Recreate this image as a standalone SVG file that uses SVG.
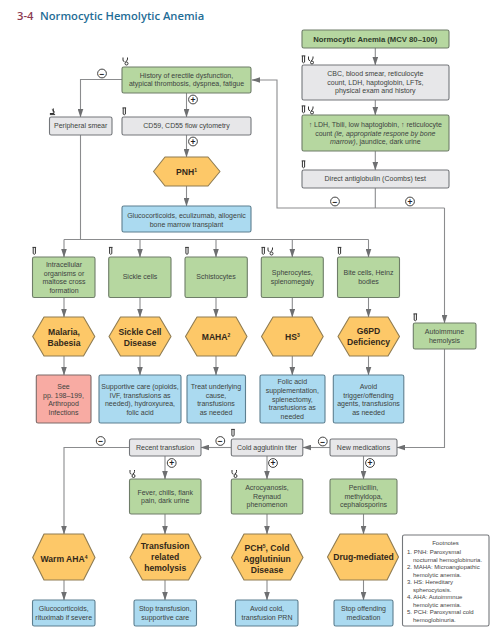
<svg xmlns="http://www.w3.org/2000/svg" xmlns:xlink="http://www.w3.org/1999/xlink" width="501" height="633" viewBox="0 0 501 633">
<style>
text{font-family:"Liberation Sans",Arial,sans-serif;font-size:7px;fill:#3d4340;text-anchor:middle}
.b{rx:1.8;stroke-width:1.1}
.g{fill:#b6d7a0;stroke:#6e7d68}
.y{fill:#e7e7e9;stroke:#74777b}
.l{fill:#abdaf0;stroke:#5d7f90}
.r{fill:#f8aba3;stroke:#7d6a68}
.h{fill:#fdc868;stroke:#8f7c52;stroke-width:1.1;stroke-linejoin:round}
.ht{font-weight:700;font-size:8.6px;fill:#33291a}
.c{fill:none;stroke:#8b8c8e;stroke-width:1.1}
.o{fill:#fff;stroke:#2b2b2b;stroke-width:.9}
.s{font-size:8.5px;font-weight:700;fill:#222}
.f{font-size:6px;text-anchor:start;fill:#444}
.i{fill:none;stroke:#333;stroke-width:1}
</style>
<defs>
<marker id="a" markerWidth="9" markerHeight="6" refX="8" refY="3" orient="auto" markerUnits="userSpaceOnUse"><path d="M0 .2L8.5 3L0 5.8z" fill="#6e6f71"/></marker>
<g id="tube"><path class="i" d="M.2 .4H3.8M.9 .4V6.6Q2 8 3.1 6.6V.4"/></g>
<g id="st"><path class="i" d="M.5 0V2.5Q.5 4 2 4.2M5 0V1.5Q5 3.5 3 4.2"/><circle class="i" cx="4" cy="6" r="1.5"/></g>
<g id="mi"><path class="i" d="M3.8 .4V4.5M2.4 1.5Q5.5 2.5 4.5 5.5H.4M.4 6.6H5.6"/></g>
</defs>
<text x="17" y="19.5" style="font-family:'Open Sans',sans-serif;font-size:11.2px;font-weight:600;fill:#8c3a52;text-anchor:start">3-4</text>
<text x="40" y="19.5" style="font-family:'Open Sans',sans-serif;font-size:11.2px;font-weight:600;fill:#1f6d96;text-anchor:start">Normocytic Hemolytic Anemia</text>

<g id="connectors" class="c">
<path marker-end="url(#a)" d="M375.3 48V65"/>
<path marker-end="url(#a)" d="M375.3 100V115"/>
<path marker-end="url(#a)" d="M375.3 151V170"/>
<path d="M375.3 188V208"/>
<path marker-end="url(#a)" d="M444.5 208H277V80H252"/>
<path marker-end="url(#a)" d="M444.5 208V323"/>
<path marker-end="url(#a)" d="M444.5 349V447.5H397"/>
<path marker-end="url(#a)" d="M122 79.5H80.5V117"/>
<path marker-end="url(#a)" d="M186.5 93V117"/>
<path marker-end="url(#a)" d="M186.5 135V157"/>
<path marker-end="url(#a)" d="M186.5 186V206"/>
<path d="M80.5 135V239.5"/>
<path d="M64 239.5H368.5"/>
<path marker-end="url(#a)" d="M64 239.5V257"/>
<path marker-end="url(#a)" d="M140 239.5V257"/>
<path marker-end="url(#a)" d="M216 239.5V257"/>
<path marker-end="url(#a)" d="M292.3 239.5V257"/>
<path marker-end="url(#a)" d="M368.5 239.5V257"/>
<path marker-end="url(#a)" d="M64 297.5V317"/>
<path marker-end="url(#a)" d="M140 297.5V317"/>
<path marker-end="url(#a)" d="M216 297.5V317"/>
<path marker-end="url(#a)" d="M292.3 297.5V317"/>
<path marker-end="url(#a)" d="M368.5 297.5V317"/>
<path marker-end="url(#a)" d="M64 356V375"/>
<path marker-end="url(#a)" d="M140 356V375"/>
<path marker-end="url(#a)" d="M216 356V375"/>
<path marker-end="url(#a)" d="M292.3 356V375"/>
<path marker-end="url(#a)" d="M368.5 356V375"/>
<path marker-end="url(#a)" d="M129.5 447.5H64V534"/>
<path marker-end="url(#a)" d="M231 447.5H201"/>
<path marker-end="url(#a)" d="M330 447.5H303"/>
<path marker-end="url(#a)" d="M165 456V479"/>
<path marker-end="url(#a)" d="M267 456V479"/>
<path marker-end="url(#a)" d="M363.5 456V479"/>
<path marker-end="url(#a)" d="M165 514V534"/>
<path marker-end="url(#a)" d="M267 514V534"/>
<path marker-end="url(#a)" d="M363.5 514V534"/>
<path marker-end="url(#a)" d="M64 580V600"/>
<path marker-end="url(#a)" d="M165 580V600"/>
<path marker-end="url(#a)" d="M267 580V600"/>
<path marker-end="url(#a)" d="M363.5 580V600"/>
</g>

<g id="signs">
<circle class="o" cx="102" cy="73.5" r="4.4"/><text class="s" x="102" y="76.5">−</text>
<circle class="o" cx="193" cy="99.5" r="4.4"/><text class="s" x="193" y="102.5">+</text>
<circle class="o" cx="193" cy="141.5" r="4.4"/><text class="s" x="193" y="144.5">+</text>
<circle class="o" cx="335" cy="201.5" r="4.4"/><text class="s" x="335" y="204.5">−</text>
<circle class="o" cx="410" cy="201.5" r="4.4"/><text class="s" x="410" y="204.5">+</text>
<circle class="o" cx="100.7" cy="441" r="4.4"/><text class="s" x="100.7" y="444">−</text>
<circle class="o" cx="171.7" cy="463" r="4.4"/><text class="s" x="171.7" y="466">+</text>
<circle class="o" cx="220.3" cy="441" r="4.4"/><text class="s" x="220.3" y="444">−</text>
<circle class="o" cx="273" cy="463" r="4.4"/><text class="s" x="273" y="466">+</text>
<circle class="o" cx="322.8" cy="441.5" r="4.4"/><text class="s" x="322.8" y="444.5">−</text>
<circle class="o" cx="370" cy="463" r="4.4"/><text class="s" x="370" y="466">+</text>
</g>

<g id="icons">
<use href="#st" x="122.5" y="57.5"/><use href="#tube" x="122.3" y="107.5"/><use href="#mi" x="49.5" y="108"/>
<use href="#tube" x="301.5" y="55.5"/><use href="#st" x="308" y="56.5"/>
<use href="#tube" x="301.5" y="105.5"/><use href="#st" x="308" y="106.5"/>
<use href="#tube" x="301.5" y="160.5"/>
<use href="#tube" x="32.3" y="247"/><use href="#tube" x="108.7" y="247"/><use href="#tube" x="185" y="247"/>
<use href="#tube" x="261.3" y="247"/><use href="#st" x="267.5" y="247.5"/><use href="#tube" x="337.5" y="247"/>
<use href="#tube" x="413.3" y="313.5"/>
<use href="#tube" x="231" y="429"/><use href="#st" x="129.5" y="470"/><use href="#st" x="231.5" y="470"/>
</g>

<g id="n-start"><rect class="b g" x="302" y="30" width="147" height="18"/><text x="375.3" y="41.5" style="font-weight:700;font-size:7.7px;fill:#2c3a2a">Normocytic Anemia (MCV 80–100)</text></g>
<g id="n-cbc"><rect class="b y" x="302" y="65" width="147" height="35"/><text x="375.3" y="76">CBC, blood smear, reticulocyte</text><text x="375.3" y="84.7">count, LDH, haptoglobin, LFTs,</text><text x="375.3" y="93.3">physical exam and history</text></g>
<g id="n-ldh"><rect class="b g" x="302" y="115" width="147" height="36"/><text x="375.3" y="126.8">↑ LDH, Tbili, low haptoglobin, ↑ reticulocyte</text><text x="375.3" y="135.5">count <tspan font-style="italic">(ie, appropriate respone by bone</tspan></text><text x="375.3" y="144.2"><tspan font-style="italic">marrow)</tspan>, jaundice, dark urine</text></g>
<g id="n-coombs"><rect class="b y" x="302" y="170" width="147" height="18"/><text x="375.3" y="181.3">Direct antiglobulin (Coombs) test</text></g>

<g id="n-history"><rect class="b g" x="122" y="67" width="129" height="26"/><text x="186.5" y="78">History of erectile dysfunction,</text><text x="186.5" y="86">atypical thrombosis, dyspnea, fatigue</text></g>
<g id="n-smear"><rect class="b y" x="49.5" y="117" width="62.5" height="18"/><text x="80.7" y="128">Peripheral smear</text></g>
<g id="n-cd59"><rect class="b y" x="122" y="117" width="129" height="18"/><text x="186.5" y="128">CD59, CD55 flow cytometry</text></g>
<g id="n-pnh"><polygon class="h" points="153.5,171.5 165,157 208,157 220,171.5 208,186 165,186"/><text class="ht" x="186.5" y="175">PNH<tspan font-size="5" dy="-3">1</tspan></text></g>
<g id="n-pnhtx"><rect class="b l" x="122" y="206" width="129" height="26"/><text x="186.5" y="218">Glucocorticoids, eculizumab, allogenic</text><text x="186.5" y="226.5">bone marrow transplant</text></g>

<g id="n-intra"><rect class="b g" x="32.5" y="257" width="62.5" height="40.5"/><text x="64" y="267">Intracellular</text><text x="64" y="275.5">organisms or</text><text x="64" y="284">maltose cross</text><text x="64" y="292.5">formation</text></g>
<g id="n-sickle"><rect class="b g" x="108.7" y="257" width="62.3" height="40.5"/><text x="140" y="279.3">Sickle cells</text></g>
<g id="n-schist"><rect class="b g" x="185" y="257" width="62.3" height="40.5"/><text x="216" y="279.3">Schistocytes</text></g>
<g id="n-sphero"><rect class="b g" x="261.3" y="257" width="62" height="40.5"/><text x="292.3" y="275.2">Spherocytes,</text><text x="292.3" y="284">splenomegaly</text></g>
<g id="n-bite"><rect class="b g" x="337.5" y="257" width="62" height="40.5"/><text x="368.5" y="275.2">Bite cells, Heinz</text><text x="368.5" y="284">bodies</text></g>

<g id="n-malaria"><polygon class="h" points="32.7,336.5 44,317 83.5,317 94.8,336.5 83.5,356 44,356"/><text class="ht" x="64" y="334.8">Malaria,</text><text class="ht" x="64" y="345.8">Babesia</text></g>
<g id="n-scd"><polygon class="h" points="109,336.5 120.5,317 159.5,317 171,336.5 159.5,356 120.5,356"/><text class="ht" x="140" y="334.8">Sickle Cell</text><text class="ht" x="140" y="345.8">Disease</text></g>
<g id="n-maha"><polygon class="h" points="185.5,336.5 197,317 236,317 247,336.5 236,356 197,356"/><text class="ht" x="216" y="339.8">MAHA<tspan font-size="5" dy="-3">2</tspan></text></g>
<g id="n-hs"><polygon class="h" points="261.5,336.5 273,317 312,317 323.2,336.5 312,356 273,356"/><text class="ht" x="292.3" y="339.8">HS<tspan font-size="5" dy="-3">3</tspan></text></g>
<g id="n-g6pd"><polygon class="h" points="338,336.5 349.5,317 388,317 399.5,336.5 388,356 349.5,356"/><text class="ht" x="368.5" y="334">G6PD</text><text class="ht" x="368.5" y="344.5">Deficiency</text></g>

<g id="n-see"><rect class="b r" x="36.3" y="375" width="54.7" height="48"/><text x="63.5" y="389">See</text><text x="63.5" y="397.5">pp. 198–199,</text><text x="63.5" y="406">Arthropod</text><text x="63.5" y="414.5">Infections</text></g>
<g id="n-sctx"><rect class="b l" x="99" y="375" width="82" height="48"/><text x="140" y="389">Supportive care (opioids,</text><text x="140" y="397.5">IVF, transfusions as</text><text x="140" y="406">needed), hydroxyurea,</text><text x="140" y="414.5">folic acid</text></g>
<g id="n-mahatx"><rect class="b l" x="187" y="375" width="58.5" height="48"/><text x="216" y="389">Treat underlying</text><text x="216" y="397.5">cause,</text><text x="216" y="406">transfusions</text><text x="216" y="414.5">as needed</text></g>
<g id="n-hstx"><rect class="b l" x="260" y="375" width="65" height="48"/><text x="292.3" y="384">Folic acid</text><text x="292.3" y="392.7">supplementation,</text><text x="292.3" y="401.5">splenectomy,</text><text x="292.3" y="410.2">transfusions as</text><text x="292.3" y="419">needed</text></g>
<g id="n-g6tx"><rect class="b l" x="333.3" y="375" width="70.5" height="48"/><text x="368.5" y="389">Avoid</text><text x="368.5" y="397.5">trigger/offending</text><text x="368.5" y="406">agents, transfusions</text><text x="368.5" y="414.5">as needed</text></g>

<g id="n-auto"><rect class="b g" x="413.3" y="323" width="62.7" height="26"/><text x="444.5" y="334.2">Autoimmune</text><text x="444.5" y="343">hemolysis</text></g>

<g id="n-recent"><rect class="b y" x="129.5" y="439" width="71.5" height="17"/><text x="165.2" y="449.8">Recent transfusion</text></g>
<g id="n-cold"><rect class="b y" x="231.3" y="439" width="71.5" height="17"/><text x="267" y="449.8">Cold agglutinin titer</text></g>
<g id="n-newmed"><rect class="b y" x="330" y="439" width="67" height="17"/><text x="363.5" y="449.8">New medications</text></g>

<g id="n-fever"><rect class="b g" x="129.5" y="479" width="71.5" height="35"/><text x="165.2" y="495.2">Fever, chills, flank</text><text x="165.2" y="503.2">pain, dark urine</text></g>
<g id="n-acro"><rect class="b g" x="231.3" y="479" width="71.5" height="35"/><text x="267" y="490">Acrocyanosis,</text><text x="267" y="498.7">Reynaud</text><text x="267" y="507.4">phenomenon</text></g>
<g id="n-peni"><rect class="b g" x="330" y="479" width="67" height="35"/><text x="363.5" y="490">Penicillin,</text><text x="363.5" y="498.7">methyldopa,</text><text x="363.5" y="507.4">cephalosporins</text></g>

<g id="n-warm"><polygon class="h" points="32.7,557.5 44,534 83.5,534 95,557.5 83.5,580 44,580"/><text class="ht" x="64" y="562">Warm AHA<tspan font-size="5" dy="-3">4</tspan></text></g>
<g id="n-trans"><polygon class="h" points="130,557.5 142.5,534 188.5,534 201,557.5 188.5,580 142.5,580"/><text class="ht" x="165.2" y="549.3">Transfusion</text><text class="ht" x="165.2" y="560">related</text><text class="ht" x="165.2" y="570.5">hemolysis</text></g>
<g id="n-pch"><polygon class="h" points="231.5,557.5 244,534 290.5,534 303,557.5 290.5,580 244,580"/><text class="ht" x="267" y="551">PCH<tspan font-size="5" dy="-3">5</tspan><tspan dy="3">, Cold</tspan></text><text class="ht" x="267" y="562">Agglutiniun</text><text class="ht" x="267" y="572.5">Disease</text></g>
<g id="n-drug"><polygon class="h" points="327.5,557 340,534 387,534 398.5,557 387,580 340,580"/><text class="ht" x="363.5" y="560">Drug-mediated</text></g>

<g id="n-warmtx"><rect class="b l" x="32.5" y="600" width="62.5" height="26"/><text x="63.7" y="611.2">Glucocorticoids,</text><text x="63.7" y="620">rituximab if severe</text></g>
<g id="n-transtx"><rect class="b l" x="134" y="600" width="62.5" height="26"/><text x="165.2" y="611.2">Stop transfusion,</text><text x="165.2" y="620">supportive care</text></g>
<g id="n-pchtx"><rect class="b l" x="235.5" y="600" width="62.5" height="26"/><text x="267" y="611.2">Avoid cold,</text><text x="267" y="620">transfusion PRN</text></g>
<g id="n-drugtx"><rect class="b l" x="334" y="600" width="59" height="26"/><text x="363.5" y="611.2">Stop offending</text><text x="363.5" y="620">medication</text></g>

<g id="footnotes"><rect class="b" x="402.5" y="535" width="86.5" height="91" fill="#fff" stroke="#74777b"/>
<text x="445.5" y="544.7" style="font-size:6px;fill:#444">Footnotes</text>
<text class="f" x="407" y="554">1. PNH: Paroxysmal</text>
<text class="f" x="413" y="561.5">nocturnal hemoglobinuria.</text>
<text class="f" x="407" y="569">2. MAHA: Microangiopathic</text>
<text class="f" x="413" y="576.5">hemolytic anemia.</text>
<text class="f" x="407" y="584">3. HS: Hereditary</text>
<text class="f" x="413" y="591.5">spherocytosis.</text>
<text class="f" x="407" y="599">4. AHA: Autoimmnue</text>
<text class="f" x="413" y="606.5">hemolytic anemia.</text>
<text class="f" x="407" y="614">5. PCH: Paroxysmal cold</text>
<text class="f" x="413" y="621.5">hemoglobinuria.</text>
</g>
</svg>
